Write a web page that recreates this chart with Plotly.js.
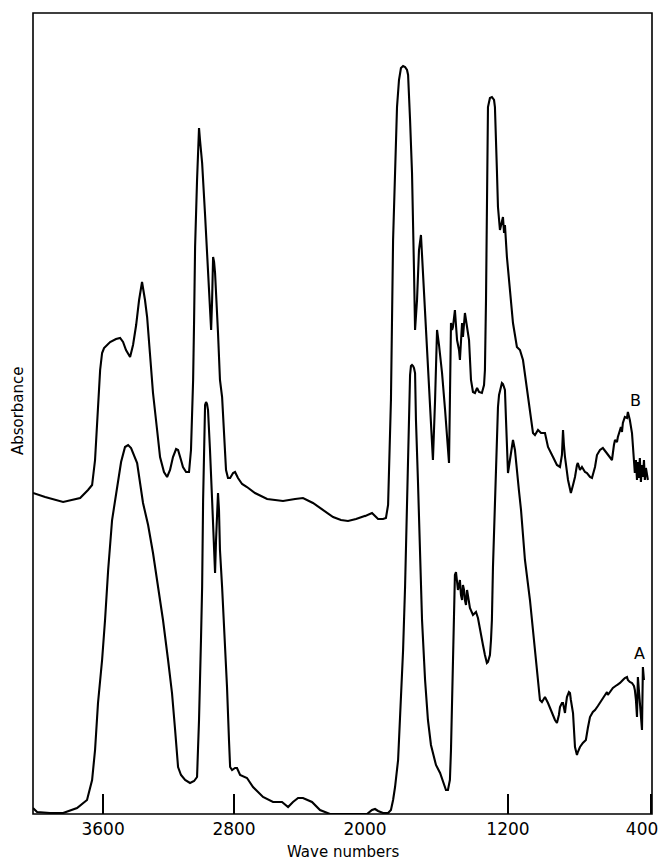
<!DOCTYPE html>
<html>
<head>
<meta charset="utf-8">
<script src="https://cdn.plot.ly/plotly-3.0.1.min.js"></script>
<style>html,body{margin:0;padding:0;background:#fff;}#chart{width:659px;height:861px;}</style>
</head>
<body>
<div id="chart"></div>
<script>
// Wave numbers (cm-1) and absorbance (arbitrary units)
const waveB = [4028,3954,3844,3740,3692,3667,3649,3637,3618,3606,3594,3557,3521,3496,3478,3460,3435,3417,3398,3380,3362,3344,3331,3313,3295,3270,3252,3228,3209,3191,3173,3154,3142,3124,3112,3093,3075,3063,3057,3050,3044,3038,3026,3014,3008,2995,2977,2965,2953,2940,2934,2928,2922,2916,2898,2886,2873,2861,2849,2837,2824,2806,2794,2776,2751,2721,2672,2598,2501,2427,2379,2318,2256,2195,2147,2104,2055,2012,1983,1961,1944,1927,1899,1883,1871,1866,1855,1843,1832,1821,1810,1799,1787,1776,1765,1759,1748,1737,1726,1720,1709,1698,1687,1676,1664,1648,1636,1625,1620,1608,1597,1586,1569,1552,1536,1530,1525,1519,1513,1508,1497,1485,1474,1469,1457,1452,1441,1429,1418,1407,1396,1385,1373,1362,1346,1334,1329,1323,1318,1312,1301,1290,1278,1273,1262,1256,1245,1239,1228,1222,1217,1206,1189,1172,1150,1133,1116,1088,1060,1049,1032,1015,993,976,960,948,926,909,898,892,887,881,864,848,836,825,814,809,797,786,769,758,741,730,713,702,685,669,652,641,629,618,607,601,590,585,573,568,562,557,546,534,529,518,506,501,490,484,478,473,467,462,456,450,445,439,434,428,417];
const absB = [0.321,0.317,0.312,0.316,0.324,0.329,0.354,0.394,0.444,0.461,0.466,0.472,0.475,0.476,0.472,0.464,0.457,0.469,0.489,0.514,0.532,0.514,0.497,0.459,0.421,0.384,0.357,0.342,0.337,0.344,0.357,0.365,0.364,0.354,0.347,0.342,0.342,0.364,0.397,0.434,0.494,0.567,0.634,0.686,0.674,0.651,0.599,0.564,0.519,0.484,0.514,0.557,0.552,0.541,0.481,0.434,0.417,0.374,0.344,0.336,0.336,0.341,0.342,0.336,0.330,0.327,0.321,0.315,0.313,0.315,0.316,0.311,0.304,0.297,0.294,0.293,0.295,0.297,0.299,0.301,0.298,0.295,0.295,0.296,0.309,0.344,0.414,0.574,0.654,0.707,0.734,0.746,0.748,0.747,0.744,0.739,0.694,0.641,0.544,0.484,0.514,0.564,0.579,0.544,0.507,0.454,0.407,0.374,0.354,0.414,0.484,0.469,0.441,0.404,0.364,0.351,0.414,0.491,0.484,0.487,0.504,0.474,0.464,0.454,0.491,0.477,0.501,0.489,0.474,0.434,0.422,0.421,0.426,0.422,0.421,0.429,0.444,0.514,0.607,0.707,0.716,0.717,0.714,0.707,0.644,0.607,0.584,0.589,0.597,0.581,0.589,0.557,0.524,0.491,0.467,0.464,0.454,0.417,0.381,0.379,0.384,0.381,0.381,0.367,0.362,0.357,0.349,0.347,0.359,0.384,0.369,0.357,0.334,0.321,0.329,0.337,0.349,0.351,0.344,0.347,0.342,0.341,0.337,0.336,0.347,0.359,0.364,0.366,0.362,0.359,0.356,0.354,0.369,0.374,0.372,0.377,0.384,0.387,0.382,0.391,0.397,0.396,0.402,0.394,0.381,0.367,0.341,0.354,0.334,0.352,0.336,0.356,0.332,0.349,0.337,0.354,0.334,0.346,0.334];

const waveA = [4028,4003,3924,3844,3759,3698,3667,3649,3631,3606,3588,3569,3545,3515,3490,3466,3447,3429,3411,3392,3356,3325,3295,3264,3234,3203,3179,3160,3142,3124,3099,3069,3044,3026,3014,3002,2995,2989,2983,2977,2971,2965,2959,2953,2947,2934,2922,2916,2910,2904,2898,2892,2886,2873,2855,2843,2831,2824,2812,2794,2782,2763,2721,2684,2623,2562,2507,2470,2440,2409,2379,2348,2324,2275,2214,2092,1989,1961,1944,1927,1899,1871,1855,1843,1832,1815,1804,1787,1776,1765,1759,1754,1748,1743,1737,1731,1726,1720,1715,1704,1692,1681,1664,1648,1631,1620,1603,1580,1564,1547,1536,1525,1519,1513,1508,1502,1497,1491,1485,1480,1474,1469,1463,1457,1452,1446,1441,1435,1429,1424,1413,1396,1379,1368,1357,1340,1329,1318,1312,1301,1295,1290,1284,1278,1273,1267,1262,1256,1250,1239,1234,1228,1217,1211,1206,1200,1189,1178,1172,1161,1150,1139,1127,1105,1077,1049,1027,1021,1010,993,976,960,948,937,926,915,909,898,892,881,876,870,859,853,848,836,825,820,814,809,797,781,764,753,741,725,713,697,685,669,657,646,641,629,613,590,573,557,546,534,529,518,506,495,490,484,478,473,467,462,456,450,445,439];
const absA = [0.006,0.002,0.001,0.001,0.006,0.014,0.034,0.064,0.111,0.154,0.194,0.244,0.294,0.327,0.352,0.367,0.369,0.366,0.359,0.351,0.311,0.289,0.261,0.229,0.194,0.154,0.121,0.084,0.047,0.039,0.034,0.031,0.033,0.037,0.094,0.174,0.227,0.314,0.384,0.409,0.412,0.410,0.404,0.389,0.364,0.314,0.264,0.241,0.274,0.309,0.321,0.304,0.264,0.227,0.174,0.127,0.074,0.047,0.044,0.046,0.046,0.039,0.036,0.027,0.017,0.012,0.012,0.007,0.012,0.016,0.016,0.014,0.012,0.004,0.000,0.000,0.000,0.004,0.005,0.003,0.001,0.001,0.004,0.014,0.027,0.054,0.094,0.164,0.227,0.314,0.361,0.404,0.439,0.448,0.449,0.448,0.446,0.441,0.394,0.334,0.254,0.194,0.134,0.094,0.069,0.061,0.049,0.041,0.032,0.024,0.024,0.034,0.064,0.114,0.174,0.224,0.239,0.242,0.234,0.224,0.229,0.234,0.219,0.214,0.229,0.224,0.214,0.209,0.224,0.219,0.206,0.199,0.202,0.196,0.184,0.169,0.159,0.151,0.152,0.159,0.174,0.194,0.247,0.284,0.314,0.344,0.374,0.407,0.419,0.429,0.431,0.430,0.424,0.394,0.359,0.341,0.354,0.369,0.374,0.364,0.341,0.324,0.304,0.254,0.214,0.164,0.124,0.114,0.112,0.117,0.111,0.104,0.097,0.094,0.091,0.099,0.107,0.111,0.111,0.101,0.109,0.117,0.122,0.121,0.114,0.101,0.067,0.062,0.059,0.062,0.067,0.071,0.074,0.086,0.097,0.102,0.104,0.108,0.111,0.116,0.119,0.122,0.119,0.122,0.126,0.129,0.131,0.134,0.136,0.137,0.134,0.132,0.131,0.128,0.124,0.114,0.097,0.137,0.124,0.114,0.104,0.084,0.147,0.134];

const tickHigh = [3600, 2800, 2000];
const tickLow = [1200];
const tickEnd = [400];
const SCALE_BREAK = 2000;

// split a spectrum at the scale change (2000 cm-1), keeping one neighbour for continuity
function part(w, a, high) {
  const xs = [], ys = [];
  const isIn = v => high ? v >= SCALE_BREAK : v <= SCALE_BREAK;
  for (let i = 0; i < w.length; i++) {
    const prevIn = i > 0 && isIn(w[i-1]);
    const nextIn = i < w.length - 1 && isIn(w[i+1]);
    if (isIn(w[i]) || prevIn || nextIn) { xs.push(w[i]); ys.push(a[i]); }
  }
  return {x: xs, y: ys};
}

const lineStyle = {color: '#000', width: 2.1};
const traces = [];
[[waveA, absA, 'A'], [waveB, absB, 'B']].forEach(([w, a, n]) => {
  const hi = part(w, a, true), lo = part(w, a, false);
  traces.push({type: 'scatter', mode: 'lines', name: n, x: hi.x, y: hi.y, xaxis: 'x', yaxis: 'y', line: lineStyle});
  traces.push({type: 'scatter', mode: 'lines', name: n, x: lo.x, y: lo.y, xaxis: 'x2', yaxis: 'y', line: lineStyle});
});
// carrier for the end tick axis (draws nothing)
traces.push({type: 'scatter', mode: 'markers', x: tickEnd, y: [null], xaxis: 'x3', yaxis: 'y', marker: {opacity: 0}, hoverinfo: 'skip'});

const split = 0.5364;
const axisCommon = {
  ticks: 'inside', ticklen: 20, tickwidth: 1.3, tickcolor: '#000',
  showgrid: false, zeroline: false, showline: false,
  tickfont: {size: 17, color: '#000', family: 'DejaVu Sans'},
  tickmode: 'array', anchor: 'y', fixedrange: true, ticklabeloverflow: 'allow', ticklabelstandoff: 3
};

const layout = {
  width: 659, height: 861,
  margin: {l: 33, r: 7, t: 13, b: 47},
  paper_bgcolor: '#fff', plot_bgcolor: '#fff',
  showlegend: false,
  font: {family: 'DejaVu Sans', color: '#000'},
  xaxis: Object.assign({}, axisCommon, {domain: [0, split], range: [4028, 2000], tickvals: tickHigh, ticktext: tickHigh.map(String)}),
  xaxis2: Object.assign({}, axisCommon, {domain: [split, 1], range: [2000, 394], tickvals: tickLow, ticktext: tickLow.map(String)}),
  xaxis3: Object.assign({}, axisCommon, {overlaying: 'x2', domain: [split, 1], range: [2000, 394], tickvals: tickEnd, ticktext: tickEnd.map(String), ticklabelposition: 'outside left', ticklabelshift: -8}),
  yaxis: {range: [0, 0.801], showticklabels: false, ticks: '', showgrid: false, zeroline: false, showline: false, fixedrange: true},
  shapes: [{type: 'rect', xref: 'paper', yref: 'paper', x0: 0, x1: 1, y0: 0, y1: 1, line: {color: '#000', width: 1.6}}],
  annotations: [
    {xref: 'paper', yref: 'paper', x: 0.5, y: -0.0474, yanchor: 'middle', xanchor: 'center', showarrow: false,
     text: 'Wave numbers', font: {size: 15, color: '#000', family: 'DejaVu Sans'}},
    {xref: 'paper', yref: 'paper', x: -0.0242, y: 0.503, xanchor: 'center', yanchor: 'middle', showarrow: false, textangle: -90,
     text: 'Absorbance', font: {size: 15, color: '#000', family: 'DejaVu Sans'}},
    {xref: 'x2', yref: 'y', x: 484, y: 0.414, showarrow: false, text: 'B', font: {size: 16, color: '#000', family: 'DejaVu Sans'}},
    {xref: 'x2', yref: 'y', x: 462, y: 0.161, showarrow: false, text: 'A', font: {size: 16, color: '#000', family: 'DejaVu Sans'}}
  ]
};

Plotly.newPlot('chart', traces, layout, {displayModeBar: false, staticPlot: true});
</script>
</body>
</html>
